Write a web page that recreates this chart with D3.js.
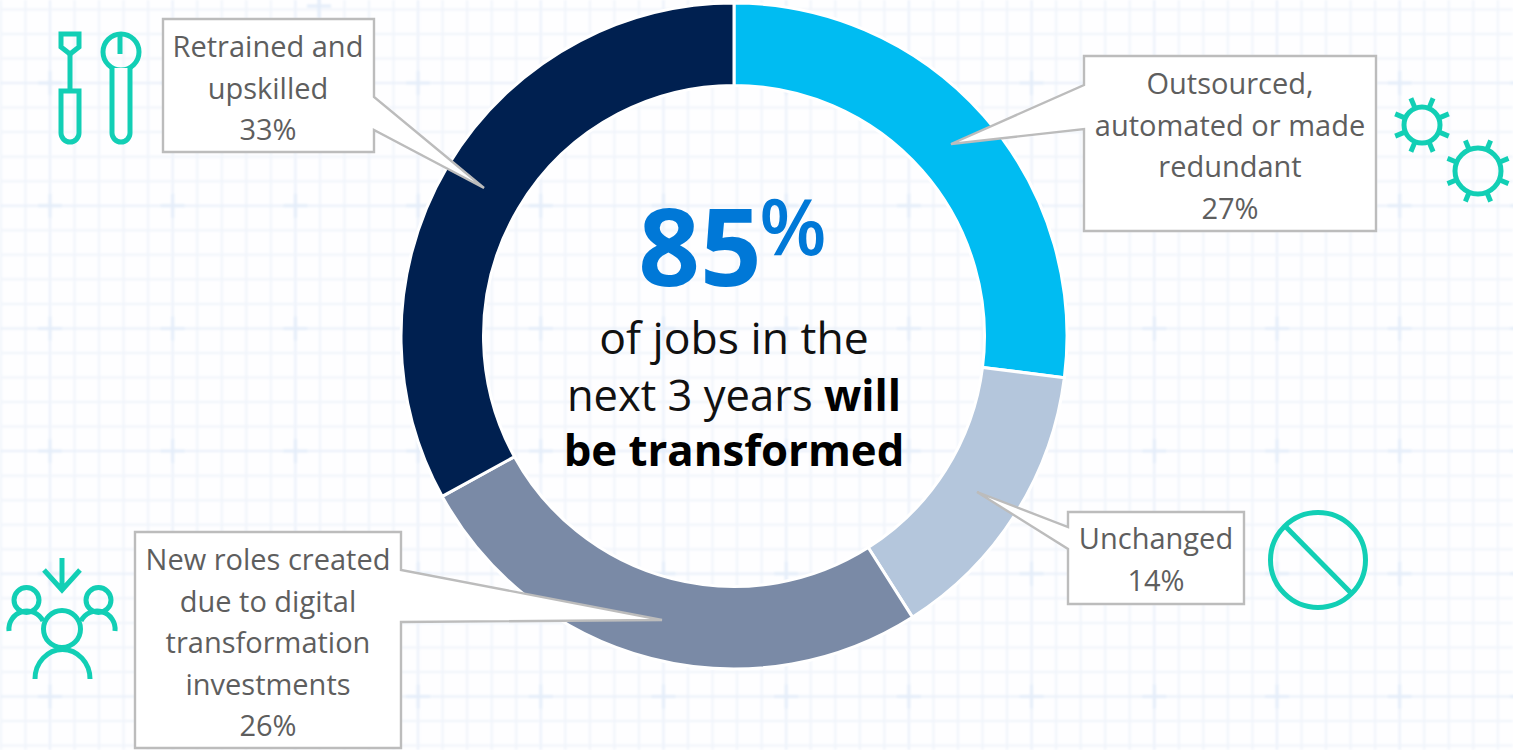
<!DOCTYPE html>
<html>
<head>
<meta charset="utf-8">
<title>Jobs transformed</title>
<script src="https://cdn.jsdelivr.net/npm/d3@7"></script>
<style>
  html, body { margin: 0; padding: 0; background: #fff; overflow: hidden; }
  svg { display: block; font-family: "Open Sans", sans-serif; }
</style>
</head>
<body>
<div id="chart"></div>
<script>
// chart values
var categories = ["Outsourced", "Unchanged", "New roles", "Retrained"];
var shares = [27, 14, 26, 33];
var sliceColors = ["#00bcf2", "#b4c6dc", "#7a8aa6", "#002050"];
var calloutLines = [
  ["Outsourced,", "automated or made", "redundant", "27%"],
  ["Unchanged", "14%"],
  ["New roles created", "due to digital", "transformation", "investments", "26%"],
  ["Retrained and", "upskilled", "33%"]
];

var width = 1513,
    height = 750,
    cx = 734,
    cy = 336,
    outerRadius = 333,
    innerRadius = 250.5,
    teal = "#12cfb5";

// callout boxes: x0, y0, x1, y1, then the tail (start y, tip x, tip y, end y), tail side
var calloutBoxes = [
  {box: [1084, 56, 1376, 231], tail: [85, 951, 144, 129], side: "left", textX: 1230, baseline: 94},
  {box: [1068, 512, 1244, 604], tail: [527, 977, 492, 549], side: "left", textX: 1156, baseline: 549},
  {box: [135, 532, 401, 748], tail: [570, 662, 620, 622], side: "right", textX: 268, baseline: 570},
  {box: [163, 19, 374, 152], tail: [97, 484, 188, 130], side: "right", textX: 268, baseline: 57}
];

var svg = d3.select("#chart").append("svg")
    .attr("width", width)
    .attr("height", height);

svg.append("rect")
    .attr("width", width)
    .attr("height", height)
    .attr("fill", "#fefeff");

var defs = svg.append("defs");
defs.append("filter")
    .attr("id", "soft")
    .append("feGaussianBlur")
    .attr("stdDeviation", 1);
defs.append("filter")
    .attr("id", "softer")
    .append("feGaussianBlur")
    .attr("stdDeviation", 0.35);

// background grid paper
var grid = svg.append("g").attr("filter", "url(#soft)");
var cell = 24.54;

d3.range(0, 62).forEach(function(i) {
  var x = 0.9 + i * cell;
  grid.append("line")
      .attr("x1", x).attr("x2", x)
      .attr("y1", 0).attr("y2", height)
      .attr("stroke", (i % 5 == 2) ? "#e9f0fa" : "#f0f4fb")
      .attr("stroke-width", 2);
});
d3.range(0, 31).forEach(function(i) {
  var y = 9.4 + i * cell;
  grid.append("line")
      .attr("x1", 0).attr("x2", width)
      .attr("y1", y).attr("y2", y)
      .attr("stroke", (i % 5 == 3) ? "#e9f0fa" : "#f0f4fb")
      .attr("stroke-width", 2);
});

// little crosses where the heavy lines meet
function cross(x, y) {
  grid.append("path")
      .attr("d", "M" + (x - 12) + "," + y + "H" + (x + 12) + "M" + x + "," + (y - 12) + "V" + (y + 12))
      .attr("stroke", "#e4edf9")
      .attr("stroke-width", 3);
}
d3.range(0, 13).forEach(function(i) {
  d3.range(0, 6).forEach(function(j) {
    cross(50 + i * cell * 5, 83 + j * cell * 5);
  });
});
cross(319, 6);

// donut
var pie = d3.pie().sort(null).value(function(d) { return d; });
var arc = d3.arc().innerRadius(innerRadius).outerRadius(outerRadius);

svg.append("g")
    .attr("transform", "translate(" + cx + "," + cy + ")")
    .selectAll("path")
    .data(pie(shares))
    .enter().append("path")
    .attr("d", arc)
    .attr("fill", function(d, i) { return sliceColors[i]; })
    .attr("stroke", "#fff")
    .attr("stroke-width", 3)
    .append("title")
    .text(function(d, i) { return categories[i]; });

// callouts
function calloutPath(c) {
  var b = c.box, t = c.tail;
  var edgeX = c.side == "left" ? b[0] : b[2];
  if (c.side == "left") {
    return "M" + b[0] + "," + b[1] + "H" + b[2] + "V" + b[3] + "H" + b[0] +
      "V" + t[3] + "L" + t[1] + "," + t[2] + "L" + edgeX + "," + t[0] + "Z";
  }
  return "M" + b[0] + "," + b[1] + "H" + b[2] + "V" + t[0] +
    "L" + t[1] + "," + t[2] + "L" + edgeX + "," + t[3] + "V" + b[3] + "H" + b[0] + "Z";
}

calloutBoxes.forEach(function(c, i) {
  var g = svg.append("g");
  g.append("path")
      .attr("d", calloutPath(c))
      .attr("fill", "#fff")
      .attr("stroke", "#bcbcbc")
      .attr("stroke-width", 2.4)
      .attr("stroke-linejoin", "miter")
      .attr("filter", "url(#softer)");
  calloutLines[i].forEach(function(line, k) {
    g.append("text")
        .attr("x", c.textX)
        .attr("y", c.baseline + k * 41.5)
        .attr("text-anchor", "middle")
        .attr("font-size", 29)
        .attr("fill", "#5e5e5e")
        .text(line);
  });
});

// centre text
var centre = svg.append("g").attr("text-anchor", "middle");

centre.append("text")
    .attr("x", 700).attr("y", 286)
    .attr("font-size", 108)
    .attr("font-weight", 700)
    .attr("fill", "#0078d7")
    .text("85");
centre.append("text")
    .attr("x", 793).attr("y", 255)
    .attr("font-size", 78)
    .attr("font-weight", 600)
    .attr("fill", "#0078d7")
    .text("%");

centre.append("text")
    .attr("x", 734).attr("y", 354)
    .attr("font-size", 44.5)
    .attr("fill", "#111")
    .text("of jobs in the");
var line2 = centre.append("text")
    .attr("x", 734).attr("y", 411)
    .attr("font-size", 43.5)
    .attr("fill", "#111");
line2.append("tspan").text("next 3 years ");
line2.append("tspan").attr("font-weight", 700).attr("fill", "#000").text("will");
centre.append("text")
    .attr("x", 734).attr("y", 466)
    .attr("font-size", 43.7)
    .attr("font-weight", 700)
    .attr("fill", "#000")
    .text("be transformed");

// icons
var icons = svg.append("g")
    .attr("fill", "none")
    .attr("stroke", teal)
    .attr("stroke-width", 5);

// screwdriver and spanner
icons.append("path").attr("d", "M61,34H79V47L70,54L61,47Z");
icons.append("path").attr("d", "M70,54V91");
icons.append("path").attr("d", "M61,91H79V133A9,9 0 0 1 61,133Z");
icons.append("circle").attr("cx", 121).attr("cy", 52).attr("r", 18);
icons.append("path").attr("d", "M120,34V54");
icons.append("path").attr("d", "M112,68V133A9,9 0 0 0 130,133V68").attr("fill", "#fefeff");

// gears
function gear(x, y, r, toothEnd) {
  icons.append("circle").attr("cx", x).attr("cy", y).attr("r", r);
  d3.range(0, 8).forEach(function(i) {
    var a = (22.5 + i * 45) * Math.PI / 180;
    icons.append("line")
        .attr("x1", x + r * Math.sin(a)).attr("y1", y - r * Math.cos(a))
        .attr("x2", x + toothEnd * Math.sin(a)).attr("y2", y - toothEnd * Math.cos(a));
  });
}
gear(1422, 125, 18, 29);
gear(1478, 171, 23, 33);

// prohibited sign
icons.append("circle").attr("cx", 1318).attr("cy", 560).attr("r", 47.5);
icons.append("path").attr("d", "M1286,527L1352,594");

// people and arrow
icons.append("path").attr("d", "M62,558V590M44,570L62,590L80,570");
icons.append("circle").attr("cx", 26.5).attr("cy", 600).attr("r", 12.5);
icons.append("circle").attr("cx", 98.5).attr("cy", 600).attr("r", 12.5);
icons.append("circle").attr("cx", 62).attr("cy", 629).attr("r", 18.5);
icons.append("path").attr("d", "M9,631A18,18 0 0 1 43,621");
icons.append("path").attr("d", "M115,631A18,18 0 0 0 81,621");
icons.append("path").attr("d", "M35,679A27,29 0 0 1 90,679");
</script>
</body>
</html>
